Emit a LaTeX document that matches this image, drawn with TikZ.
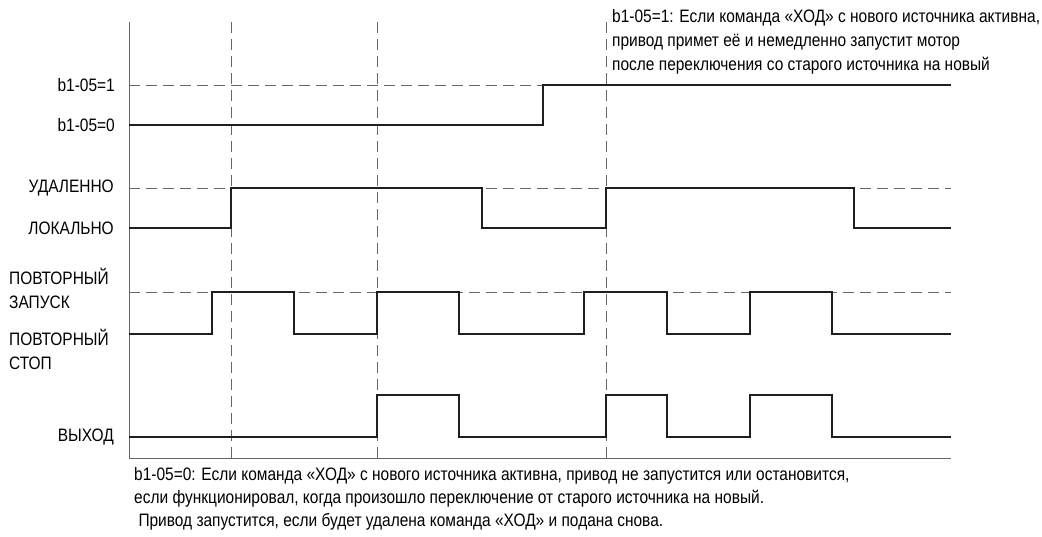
\documentclass[tikz,border=0pt]{standalone}
\usepackage{fontspec}
\setmainfont{Liberation Sans}[FakeStretch=0.86]
\begin{document}
\begin{tikzpicture}[x=1pt,y=-1pt,
  sig/.style={line width=2.2pt,black!88},
  guide/.style={black!60,line width=0.8pt,dash pattern=on 11pt off 6pt},
  axis/.style={black!60,line width=1pt},
  lbl/.style={font=\fontsize{18}{24}\selectfont,inner sep=0pt},
  note/.style={lbl,align=left,anchor=north west}]
  \useasboundingbox (0,0) rectangle (1042,536);

  % guide lines
  \foreach \y in {85,188,292}
    \draw[guide] (129,\y) -- (951,\y);
  \foreach \x in {231,377,606}
    \draw[guide] (\x,22) -- (\x,458);
  \draw[axis] (129,22) -- (129,458) -- (951,458);

  % signals
  \draw[sig] (129,125) -- (543,125) -- (543,85) -- (951,85);
  \draw[sig] (129,228) -- (231,228) -- (231,188) -- (482,188) -- (482,228)
    -- (606,228) -- (606,188) -- (854,188) -- (854,228) -- (951,228);
  \draw[sig] (129,334) -- (212,334) -- (212,292) -- (294,292) -- (294,334)
    -- (377,334) -- (377,292) -- (459,292) -- (459,334) -- (584,334)
    -- (584,292) -- (667,292) -- (667,334) -- (750,334) -- (750,292)
    -- (832,292) -- (832,334) -- (951,334);
  \draw[sig] (129,437) -- (377,437) -- (377,395) -- (459,395) -- (459,437)
    -- (606,437) -- (606,395) -- (667,395) -- (667,437) -- (750,437)
    -- (750,395) -- (832,395) -- (832,437) -- (951,437);

  % labels
  \node[lbl,anchor=east] (pone) at (115,85) {b1-05=1};
  \node[lbl,anchor=east] (pzero) at (115,125) {b1-05=0};
  \node[lbl,anchor=east] (remote) at (114,188) {УДАЛЕННО};
  \node[lbl,anchor=east] (local) at (114,228) {ЛОКАЛЬНО};
  \node[lbl,anchor=west,align=left] (restart) at (9,288) {ПОВТОРНЫЙ\\ЗАПУСК};
  \node[lbl,anchor=west,align=left] (restop) at (9,349) {ПОВТОРНЫЙ\\СТОП};
  \node[lbl,anchor=east] (output) at (114,437) {ВЫХОД};

  % notes
  \node[note] (noteone) at (612,9) {b1-05=1: Если команда «ХОД» с нового источника активна,\\
    привод примет её и немедленно запустит мотор\\
    после переключения со старого источника на новый};
  \node[note] (notezero) at (134,467) {b1-05=0: Если команда «ХОД» с нового источника активна, привод не запустится или остановится,\\[-1pt]
    если функционировал, когда произошло переключение от старого источника на новый.\\[-1pt]
    \ Привод запустится, если будет удалена команда «ХОД» и подана снова.};
\end{tikzpicture}
\end{document}
